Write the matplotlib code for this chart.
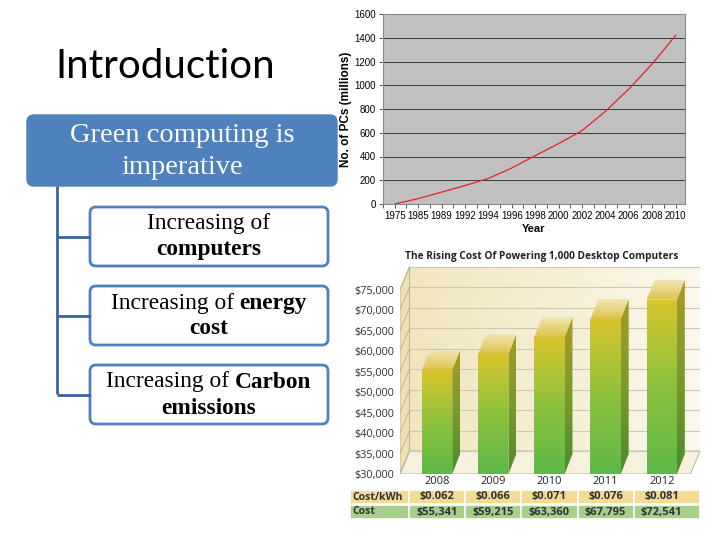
import numpy as np
import matplotlib
matplotlib.use("Agg")
import matplotlib.pyplot as plt
from matplotlib.patches import FancyBboxPatch, Polygon, Rectangle
from matplotlib.colors import LinearSegmentedColormap

# number of PCs (millions) per year label
pc_years = ["1975", "1985", "1989", "1992", "1994", "1996", "1998",
            "2000", "2002", "2004", "2006", "2008", "2010"]
pc_counts = [0, 45, 100, 155, 215, 303, 407, 508, 618, 780, 968, 1180, 1420]

# cost of powering 1,000 desktop computers
cost_years = ["2008", "2009", "2010", "2011", "2012"]
cost_kwh = ["$0.062", "$0.066", "$0.071", "$0.076", "$0.081"]
cost_total = [55341, 59215, 63360, 67795, 72541]
cost_ticks = list(range(30000, 75001, 5000))

# diagram texts: (normal part, bold part) for two lines
box_lines = [
    [("Increasing of", ""), ("", "computers")],
    [("Increasing of", "energy"), ("", "cost")],
    [("Increasing of", "Carbon"), ("", "emissions")],
]

W, H = 720, 540
BLUE = "#4f81bd"
SERIF = "Liberation Serif"

fig = plt.figure(figsize=(7.2, 5.4), dpi=100)


def px_rect(l, t, r, b):
    return [l / W, 1 - b / H, (r - l) / W, (b - t) / H]


# ---------------- left: title + diagram ----------------
ax0 = fig.add_axes([0, 0, 1, 1])
ax0.set_xlim(0, W)
ax0.set_ylim(H, 0)
ax0.axis("off")

ax0.text(55, 67, "Introduction", fontsize=29, family="Lato", va="center", ha="left")

ax0.add_patch(FancyBboxPatch((27, 115), 310, 71, boxstyle="round,pad=0,rounding_size=7",
                             facecolor=BLUE, edgecolor=BLUE))
ax0.text(182, 135, "Green computing is", fontsize=20.5, family=SERIF, color="white",
         ha="center", va="center")
ax0.text(182, 167, "imperative", fontsize=20.5, family=SERIF, color="white",
         ha="center", va="center")

# connectors
ax0.plot([57, 57], [186, 394], color="#3a64a0", lw=2, solid_capstyle="butt")
renderer = fig.canvas.get_renderer()
box_tops = [207, 286, 365]
fs = 16.8
for top, lines in zip(box_tops, box_lines):
    ax0.add_patch(FancyBboxPatch((90, top), 238, 59, boxstyle="round,pad=0,rounding_size=6",
                                 facecolor="white", edgecolor=BLUE, lw=2))
    ax0.plot([57, 90], [top + 29.5, top + 29.5], color="#3a64a0", lw=2, solid_capstyle="butt")
    for k, (normal, bold) in enumerate(lines):
        y = top + 17 + k * 26
        parts = []
        if normal:
            parts.append(ax0.text(0, y, normal, fontsize=fs, family=SERIF, va="center"))
        if bold:
            parts.append(ax0.text(0, y, bold, fontsize=fs, family=SERIF, weight="bold",
                                  va="center"))
        gap = 0.25 * fs * 100 / 72
        widths = [p.get_window_extent(renderer).width for p in parts]
        total = sum(widths) + gap * (len(parts) - 1)
        x = 209 - total / 2
        for p, w in zip(parts, widths):
            p.set_x(x)
            x += w + gap

# ---------------- top right: line chart ----------------
ax1 = fig.add_axes(px_rect(383, 14, 685, 204))
ax1.set_facecolor("#c0c0c0")
xi = np.arange(len(pc_years))
ax1.plot(xi, pc_counts, color="#e8202a", lw=0.9, zorder=3)
ax1.set_xlim(-0.3, 12.4)
ax1.set_ylim(0, 1600)
ax1.set_yticks(range(0, 1601, 200))
ax1.set_xticks(xi)
ax1.set_xticks(np.arange(-0.5, 12.4, 0.5), minor=True)
ax1.set_xticklabels(pc_years)
ax1.grid(axis="y", color="#3a3a3a", lw=0.7)
ax1.set_axisbelow(True)
for s in ax1.spines.values():
    s.set_color("#8a8a8a")
    s.set_linewidth(0.8)
ax1.tick_params(axis="both", labelsize=7, length=3, width=0.7, color="#555555", pad=2)
ax1.tick_params(axis="x", which="minor", length=3, width=0.7, color="#555555")
for lab in ax1.get_xticklabels() + ax1.get_yticklabels():
    lab.set_family("Liberation Sans")
ax1.set_ylabel("No. of PCs (millions)", fontsize=8.5, weight="bold", family="Liberation Sans",
               labelpad=2)
ax1.set_xlabel("Year", fontsize=8, weight="bold", family="Liberation Sans", labelpad=2)

# ---------------- bottom right: 3D-style bar chart ----------------
XL, XR = -0.66, 4.68
Y0 = 30000
WDX, WDY = 0.17, 5600
BDX, BDY = 0.14, 4900
BW = 0.54
TOP = cost_ticks[-1] + WDY

ax2 = fig.add_axes(px_rect(400, 265, 700, 474))
ax2.set_xlim(XL, XR)
ax2.set_ylim(Y0, 81000)


def grad_fill(ax, verts, colors, horizontal=False, z=1):
    poly = Polygon(verts, closed=True, facecolor="none", edgecolor="none", zorder=z)
    ax.add_patch(poly)
    xs = [v[0] for v in verts]
    ys = [v[1] for v in verts]
    g = np.linspace(0, 1, 256)
    g = g.reshape(1, -1) if horizontal else g.reshape(-1, 1)
    cmap = LinearSegmentedColormap.from_list("g", colors)
    im = ax.imshow(g, cmap=cmap, extent=[min(xs), max(xs), min(ys), max(ys)],
                   origin="lower", aspect="auto", zorder=z, interpolation="bilinear")
    im.set_clip_path(poly)


edge = "#b5b59a"
# back wall, left wall, floor
grad_fill(ax2, [(XL + WDX, Y0 + WDY), (XR, Y0 + WDY), (XR, TOP), (XL + WDX, TOP)],
          ["#f2e6be", "#fbf8ec"], horizontal=True, z=0.5)
ax2.add_patch(Polygon([(XL, Y0), (XL + WDX, Y0 + WDY), (XL + WDX, TOP), (XL, TOP - WDY)],
                      facecolor="#efe0b2", edgecolor=edge, lw=0.7, zorder=0.6))
ax2.add_patch(Polygon([(XL, Y0), (XR - WDX, Y0), (XR, Y0 + WDY), (XL + WDX, Y0 + WDY)],
                      facecolor="#f6f1de", edgecolor=edge, lw=0.7, zorder=0.6))
for v in cost_ticks:
    ax2.plot([XL + WDX, XR], [v + WDY, v + WDY], color="#c9c9b6", lw=0.8, zorder=0.7)
    ax2.plot([XL, XL + WDX], [v, v + WDY], color="#b8b8a0", lw=0.7, zorder=0.7)

for i, v in enumerate(cost_total):
    x0, x1 = i - BW / 2, i + BW / 2
    grad_fill(ax2, [(x1, Y0), (x1 + BDX, Y0 + BDY), (x1 + BDX, v + BDY), (x1, v)],
              ["#4d8a30", "#7a9a2c", "#a89c26"], z=2)
    grad_fill(ax2, [(x0, v), (x1, v), (x1 + BDX, v + BDY), (x0 + BDX, v + BDY)],
              ["#dcc24a", "#f3e8bb"], z=2)
    grad_fill(ax2, [(x0, Y0), (x1, Y0), (x1, v), (x0, v)],
              ["#5db848", "#8cc13e", "#d8c52c"], z=3)

ax2.set_xticks([])
ax2.set_yticks(cost_ticks)
ax2.set_yticklabels(["${:,}".format(t) for t in cost_ticks], fontsize=7.8,
                    family="Open Sans", color="#333333")
ax2.tick_params(axis="y", length=0, pad=4)
for s in ax2.spines.values():
    s.set_visible(False)

fig.text(542 / W, 1 - 257 / H, "The Rising Cost Of Powering 1,000 Desktop Computers",
         fontsize=7.3, weight="bold", family="Open Sans", color="#222222",
         ha="center", va="center")

# table below the bars
ax3 = fig.add_axes(px_rect(350, 476, 700, 520))
ax3.set_xlim(-1.55, XR)
ax3.set_ylim(520, 476)
ax3.axis("off")
rows = [("Cost/kWh", cost_kwh, "#f2db95", 490),
        ("Cost", ["${:,}".format(c) for c in cost_total], "#a8d08c", 505)]
for label, vals, color, ytop in rows:
    ax3.add_patch(Rectangle((-1.55, ytop), 1.05, 14, facecolor=color, edgecolor="white", lw=1.2))
    ax3.text(-1.5, ytop + 7, label, fontsize=7.5, weight="bold", family="Open Sans",
             color="#333333", va="center", ha="left")
    for i, t in enumerate(vals):
        right = XR if i == len(vals) - 1 else i + 0.5
        ax3.add_patch(Rectangle((i - 0.5, ytop), right - (i - 0.5), 14, facecolor=color,
                                edgecolor="white", lw=1.2))
        ax3.text(i, ytop + 7, t, fontsize=8, weight="bold", family="Open Sans",
                 color="#333333", va="center", ha="center")
for i, yr in enumerate(cost_years):
    ax3.text(i, 482, yr, fontsize=8, family="Open Sans", color="#222222",
             va="center", ha="center")

fig.savefig("out.png", dpi=100)
